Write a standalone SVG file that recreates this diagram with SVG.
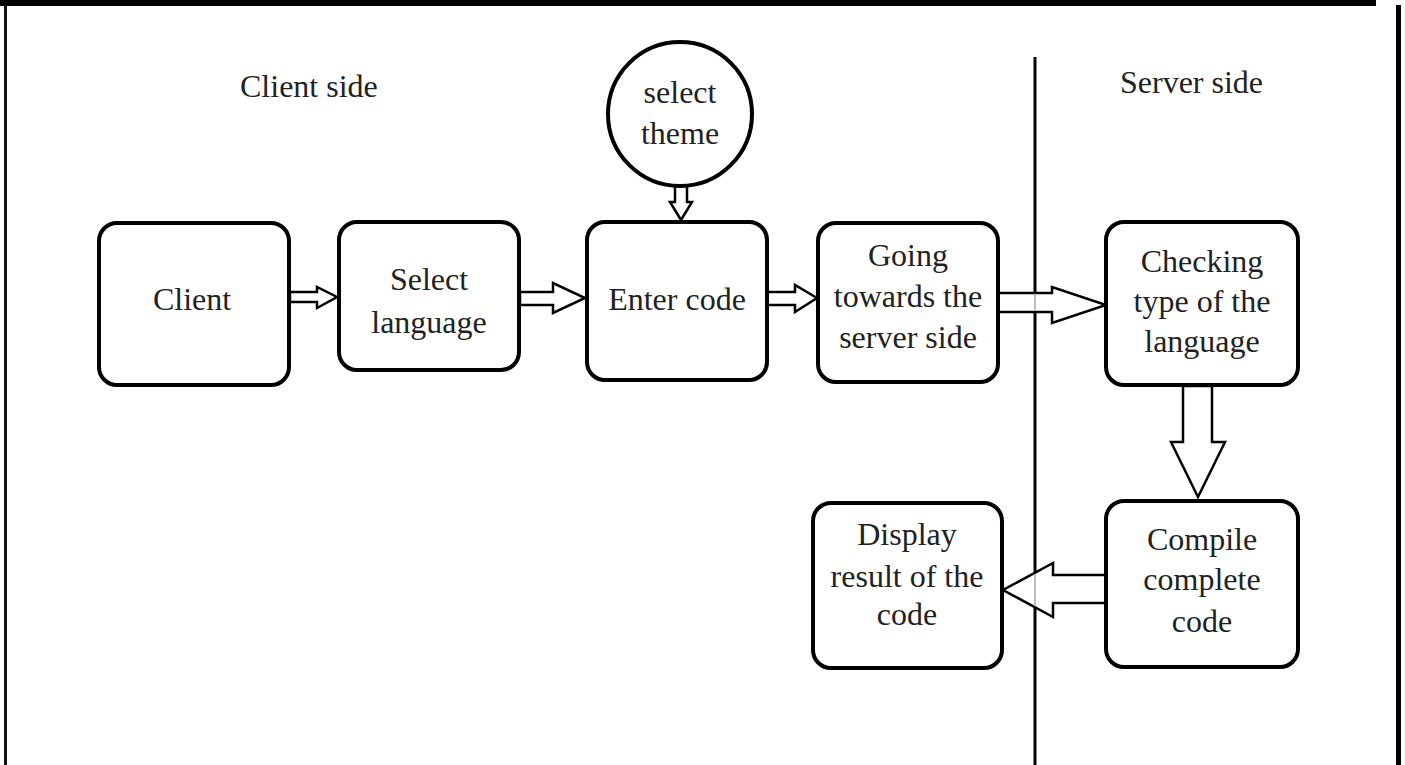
<svg xmlns="http://www.w3.org/2000/svg" width="1405" height="765" viewBox="0 0 1405 765">
<style>
.box{fill:#fff;stroke:#000;stroke-width:4}
.arr{fill:#fff;stroke:#000;stroke-width:2.5;stroke-linejoin:miter}
.t{font-family:"Liberation Serif","Times New Roman",serif;font-size:32px;fill:#222;text-anchor:middle}
.lbl{font-family:"Liberation Serif","Times New Roman",serif;font-size:32px;fill:#222}
</style>
<rect x="0" y="0" width="1405" height="765" fill="#fff"/>
<g id="frame">
<rect x="0" y="0" width="1376" height="6" fill="#000"/>
<rect x="4" y="6" width="3" height="759" fill="#111"/>
<rect x="1396" y="5" width="5" height="760" fill="#000"/>
<line x1="1035" y1="57" x2="1035" y2="765" stroke="#000" stroke-width="3"/>
</g>
<text class="lbl" x="240" y="97">Client side</text>
<text class="lbl" x="1120" y="93">Server side</text>
<g id="connectors">
<polygon class="arr" points="290,292 317,292 317,287 337,297 317,308 317,302 290,302"/>
<polygon class="arr" points="520,292 553,292 553,283 585,298 553,313 553,305 520,305"/>
<polygon class="arr" points="767,292 795,292 795,285 817,298 795,312 795,305 767,305"/>
<polygon class="arr" points="998,293 1052,293 1052,287 1106,305 1052,323 1052,312 998,312"/>
<line x1="1035" y1="294.5" x2="1035" y2="310.5" stroke="#bbb" stroke-width="2"/>
<polygon class="arr" points="1183,386 1212,386 1212,442 1225,442 1198,497 1171,442 1183,442"/>
<polygon class="arr" points="1106,575 1053,575 1053,563 1003,590 1053,617 1053,603 1106,603"/>
<line x1="1035" y1="574" x2="1035" y2="606" stroke="#bbb" stroke-width="2"/>
<polygon class="arr" points="675,186 687,186 687,202 692,202 681,220 670,202 675,202"/>
</g>
<g id="n-theme">
<circle class="box" cx="680" cy="114" r="72"/>
<text class="t" x="680" y="103">select</text>
<text class="t" x="680" y="144">theme</text>
</g>
<g id="n-client">
<rect class="box" x="99" y="223" width="190" height="162" rx="18"/>
<text class="t" x="192" y="310">Client</text>
</g>
<g id="n-select">
<rect class="box" x="339" y="222" width="180" height="148" rx="18"/>
<text class="t" x="429" y="290">Select</text>
<text class="t" x="429" y="333">language</text>
</g>
<g id="n-enter">
<rect class="box" x="587" y="222" width="180" height="158" rx="18"/>
<text class="t" x="677" y="310">Enter code</text>
</g>
<g id="n-going">
<rect class="box" x="818" y="223" width="180" height="159" rx="18"/>
<text class="t" x="908" y="266">Going</text>
<text class="t" x="908" y="307">towards the</text>
<text class="t" x="908" y="348">server side</text>
</g>
<g id="n-checking">
<rect class="box" x="1106" y="222" width="192" height="163" rx="18"/>
<text class="t" x="1202" y="272">Checking</text>
<text class="t" x="1202" y="312">type of the</text>
<text class="t" x="1202" y="352">language</text>
</g>
<g id="n-compile">
<rect class="box" x="1106" y="501" width="192" height="166" rx="18"/>
<text class="t" x="1202" y="550">Compile</text>
<text class="t" x="1202" y="590">complete</text>
<text class="t" x="1202" y="632">code</text>
</g>
<g id="n-display">
<rect class="box" x="813" y="503" width="189" height="165" rx="18"/>
<text class="t" x="907" y="545">Display</text>
<text class="t" x="907" y="587">result of the</text>
<text class="t" x="907" y="625">code</text>
</g>
</svg>
